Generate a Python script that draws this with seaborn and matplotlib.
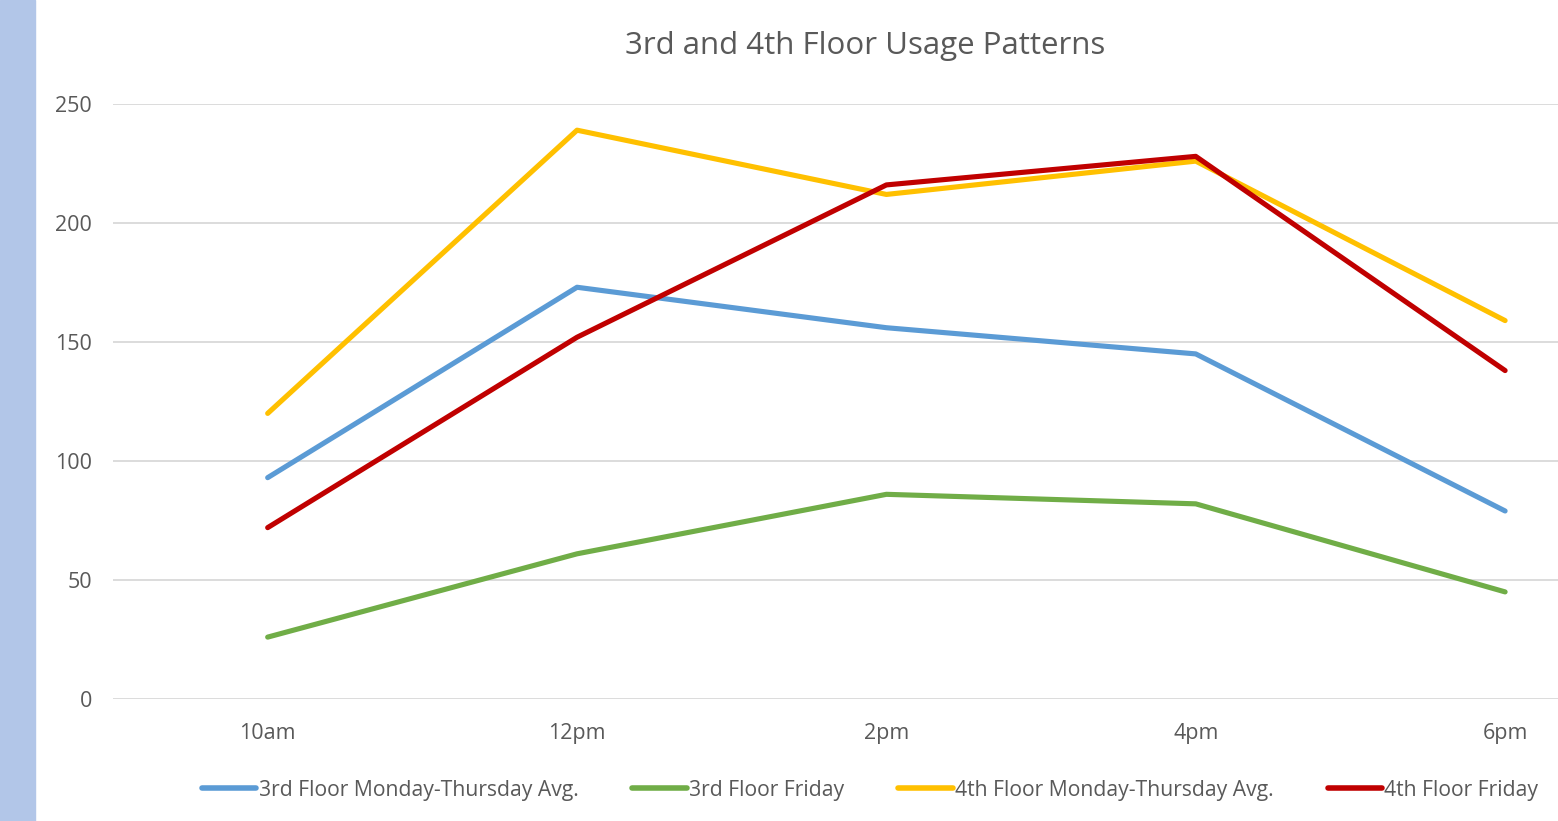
import pandas as pd
import matplotlib.pyplot as plt
import seaborn as sns
import numpy as np

# ------------------------------------------------------------
# data
# ------------------------------------------------------------
times = ["10am", "12pm", "2pm", "4pm", "6pm"]
floor3_mon_thu = [93, 173, 156, 145, 79]
floor3_fri = [26, 61, 86, 82, 45]
floor4_mon_thu = [120, 239, 212, 226, 159]
floor4_fri = [72, 152, 216, 228, 138]

series_names = [
    "3rd Floor Monday-Thursday Avg.",
    "3rd Floor Friday",
    "4th Floor Monday-Thursday Avg.",
    "4th Floor Friday",
]
colors = ["#5b9bd5", "#70ad47", "#ffc000", "#c00000"]

df = pd.DataFrame({
    "Time": times * 4,
    "Pos": list(range(len(times))) * 4,
    "Users": floor3_mon_thu + floor3_fri + floor4_mon_thu + floor4_fri,
    "Series": [s for s in series_names for _ in times],
})

# ------------------------------------------------------------
# plot
# ------------------------------------------------------------
sns.set_style("white")
plt.rcParams["font.family"] = ["Open Sans", "DejaVu Sans"]
txt = "#595959"

W, H = 1558, 821
fig = plt.figure(figsize=(W / 100, H / 100), dpi=100)

# light blue strip on the left edge
fig.patches.append(plt.Rectangle((0, 0), 35 / W, 1, transform=fig.transFigure,
                                 color="#b2c6e8", zorder=0))

ax = fig.add_axes([113 / W, 1 - 699 / H, (W - 113) / W, (699 - 104) / H])

sns.lineplot(data=df, x="Pos", y="Users", hue="Series", hue_order=series_names,
             palette=colors, linewidth=3.7, ax=ax, legend=False)

ax.set_xlim(-0.5, 4.171)
ax.set_ylim(0, 250)
ax.set_yticks(np.arange(0, 251, 50))
ax.set_xticks(range(len(times)))
ax.set_xticklabels(times)
ax.set_xlabel("")
ax.set_ylabel("")
ax.grid(axis="y", color="#d9d9d9", linewidth=1.3)
ax.set_axisbelow(True)
for s in ax.spines.values():
    s.set_visible(False)
ax.tick_params(axis="both", length=0, labelsize=15.5, colors=txt)
ax.tick_params(axis="y", pad=15)
ax.tick_params(axis="x", pad=17)

fig.text(865 / W, 1 - 46 / H, "3rd and 4th Floor Usage Patterns",
         ha="center", va="center", fontsize=22.5, color=txt)

handles = [plt.Line2D([], [], color=c, linewidth=4, solid_capstyle="round") for c in colors]
leg = fig.legend(handles, series_names, loc="center", bbox_to_anchor=(870 / W, 1 - 790 / H),
                 ncol=4, frameon=False, fontsize=15.2, handlelength=2.6, handletextpad=0.1,
                 columnspacing=2.55, labelcolor=txt)

fig.savefig("out.png", dpi=100)
